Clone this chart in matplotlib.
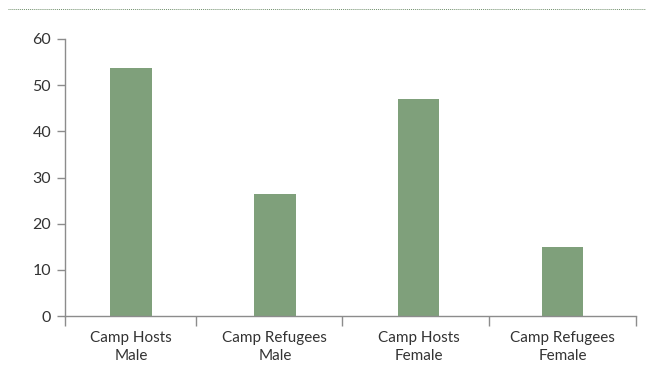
import matplotlib
matplotlib.use("Agg")
from matplotlib import pyplot as plt
from matplotlib.lines import Line2D

plt.rcParams['font.family'] = ['Lato', 'DejaVu Sans']

categories = ["Camp Hosts\nMale", "Camp Refugees\nMale", "Camp Hosts\nFemale", "Camp Refugees\nFemale"]
values = [53.7, 26.4, 47.0, 14.9]
y_ticks = [0, 10, 20, 30, 40, 50, 60]

bar_color = "#7fa07b"
text_color = "#333333"
axis_color = "#8c8c8c"

fig = plt.figure(figsize=(6.5, 3.71), dpi=100)
ax = fig.add_axes([0.1, 0.148, 0.878, 0.747])

x = range(len(categories))
ax.bar(x, values, width=0.29, color=bar_color, zorder=2)

ax.set_xlim(-0.46, 3.51)
ax.set_ylim(0, 60)
ax.set_yticks(y_ticks)
ax.set_xticks(list(x))
ax.set_xticklabels(categories, fontsize=11, color=text_color, linespacing=1.3)
ax.set_xticks([-0.46, 0.45, 1.47, 2.49, 3.51], minor=True)
ax.tick_params(axis="x", which="major", length=0, pad=11)
ax.tick_params(axis="x", which="minor", length=7, color=axis_color, width=1)
ax.tick_params(axis="y", length=6, color=axis_color, width=1, labelsize=11.5,
               labelcolor=text_color, pad=4)

for s in ["top", "right"]:
    ax.spines[s].set_visible(False)
for s in ["left", "bottom"]:
    ax.spines[s].set_color(axis_color)
    ax.spines[s].set_linewidth(1)

# dotted rule at the top
fig.add_artist(Line2D([0.012, 0.992], [0.975, 0.975], transform=fig.transFigure,
                      color="#6f8f6b", linestyle=(0, (1, 1)), linewidth=0.7))

plt.savefig("out.png", dpi=100)
